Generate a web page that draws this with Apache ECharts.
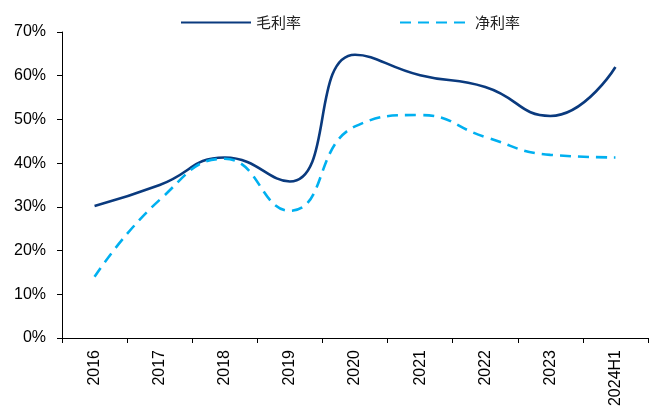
<!DOCTYPE html>
<html>
<head>
<meta charset="utf-8">
<script src="https://cdn.jsdelivr.net/npm/echarts@6/dist/echarts.min.js"></script>
<style>
  html, body { margin: 0; padding: 0; background: #fff; }
  #chart { width: 649px; height: 417px; }
</style>
</head>
<body>
<div id="chart"></div>
<script>
// Données
const years = ['2016', '2017', '2018', '2019', '2020', '2021', '2022', '2023', '2024H1'];
const grossMargin = [30.2, 35.0, 41.3, 35.8, 64.8, 60.1, 57.4, 50.8, 62.0];
const netMargin = [14.0, 31.6, 41.0, 29.1, 48.4, 51.0, 46.0, 41.9, 41.3];
const yTicks = [0, 10, 20, 30, 40, 50, 60, 70];

const chart = echarts.init(document.getElementById('chart'));

const labelFont = { fontFamily: 'Liberation Sans, Arial, sans-serif', fontSize: 16, color: '#000' };

const option = {
    animation: false,
    legend: {
        left: 175,
        top: 10,
        itemWidth: 70,
        itemHeight: 14,
        itemGap: 98,
        itemStyle: { opacity: 0 },
        textStyle: { fontFamily: 'Noto Sans CJK SC', fontSize: 15, color: '#222' },
        data: ['毛利率', '净利率']
    },
    grid: { left: 62, right: 1, top: 32, bottom: 79 },
    xAxis: {
        type: 'category',
        data: years,
        boundaryGap: true,
        axisLine: { lineStyle: { color: '#000', width: 1 } },
        axisTick: { show: true, length: 5, alignWithLabel: false, lineStyle: { color: '#000' } },
        axisLabel: Object.assign({ rotate: 90, margin: 12, interval: 0 }, labelFont)
    },
    yAxis: {
        type: 'value',
        min: yTicks[0],
        max: yTicks[yTicks.length - 1],
        interval: 10,
        axisLine: { show: true, lineStyle: { color: '#000', width: 1 } },
        axisTick: { show: true, length: 5, lineStyle: { color: '#000' } },
        splitLine: { show: false },
        axisLabel: Object.assign({ margin: 16, formatter: '{value}%' }, labelFont)
    },
    series: [
        {
            name: '毛利率',
            type: 'line',
            data: grossMargin,
            smooth: 0.5,
            symbol: 'none',
            lineStyle: { color: '#0a3a7e', width: 2.6 },
            itemStyle: { color: '#0a3a7e' }
        },
        {
            name: '净利率',
            type: 'line',
            data: netMargin,
            smooth: 0.5,
            symbol: 'none',
            lineStyle: { color: '#00b0f0', width: 2.6, type: [11, 7] },
            itemStyle: { color: '#00b0f0' }
        }
    ]
};

chart.setOption(option);
</script>
</body>
</html>
